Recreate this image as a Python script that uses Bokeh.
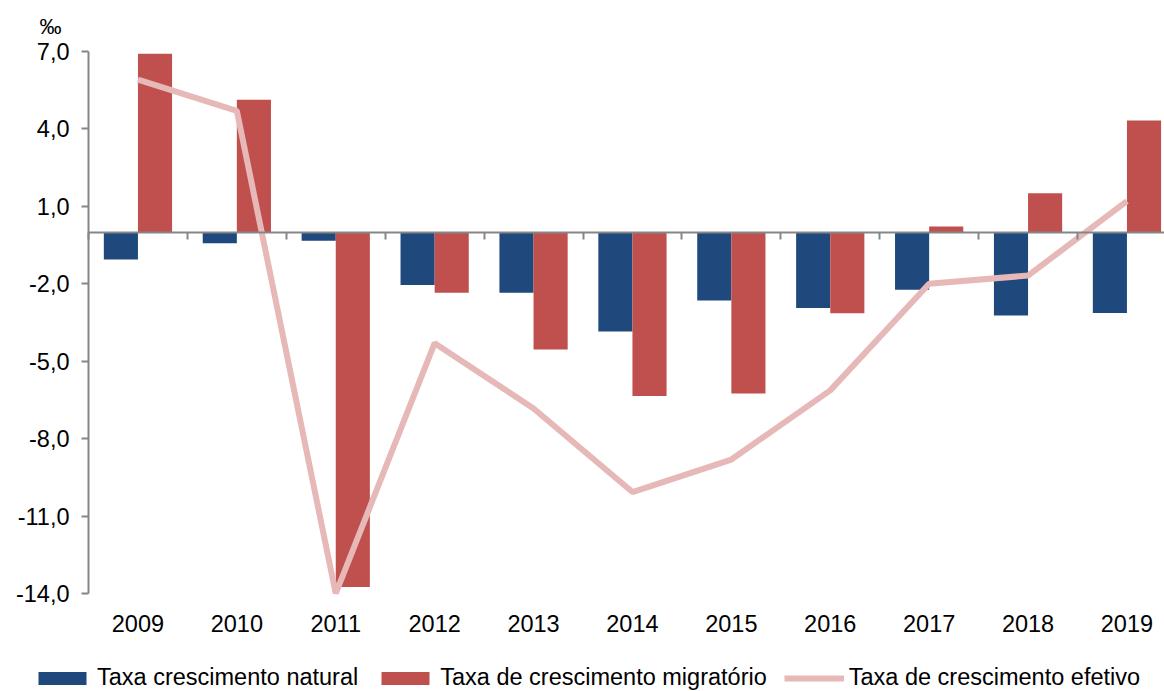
from bokeh.plotting import figure
from bokeh.models import (Range1d, LinearAxis, FixedTicker, Legend, LegendItem,
                          ColumnDataSource, Label)
from bokeh.transform import dodge
from bokeh.embed import file_html
from bokeh.resources import INLINE

# ---- data ----
years = ["2009", "2010", "2011", "2012", "2013", "2014", "2015", "2016", "2017", "2018", "2019"]
natural = [-1.06, -0.43, -0.33, -2.05, -2.35, -3.85, -2.65, -2.94, -2.23, -3.23, -3.13]
migratorio = [6.91, 5.13, -13.75, -2.35, -4.55, -6.35, -6.25, -3.14, 0.22, 1.51, 4.33]
efetivo = [5.91, 4.70, -14.0, -4.30, -6.83, -10.07, -8.81, -6.13, -2.00, -1.68, 1.20]
y_ticks = [-14, -11, -8, -5, -2, 1, 4, 7]
series_names = ["Taxa crescimento natural", "Taxa de crescimento migratório",
                "Taxa de crescimento efetivo"]
unit_label = "‰"

BLUE = "#1F497D"
RED = "#C0504D"
PINK = "#E6B9B8"
GREY = "#868686"
FONT = "Liberation Sans"
FS = "23.5px"

W, H = 1164, 691
# layout geometry (pixels)
AX_X = 88.0          # y-axis position from left
TOP_Y = 51.0         # pixel of y = 7
BOT_Y = 593.0        # pixel of y = -14
CAT_W = 98.9         # pixels per category

ymin, ymax = min(y_ticks), max(y_ticks)
ppu = (BOT_Y - TOP_Y) / (ymax - ymin)
y_start = ymin - (H - BOT_Y) / ppu
y_end = ymax + TOP_Y / ppu
x_start = -0.5 - AX_X / CAT_W
x_end = x_start + W / CAT_W

idx = list(range(len(years)))
src = ColumnDataSource(dict(idx=idx, natural=natural, migratorio=migratorio, efetivo=efetivo))

p = figure(width=W, height=H, output_backend="svg", toolbar_location=None,
           x_range=Range1d(x_start, x_end), y_range=Range1d(y_start, y_end),
           x_axis_location=None, y_axis_location=None,
           min_border=0, min_border_left=0, min_border_right=0,
           min_border_top=0, min_border_bottom=0)
p.outline_line_color = None
p.xgrid.visible = False
p.ygrid.visible = False

# bars
r_nat = p.vbar(x=dodge("idx", -0.1725, range=p.x_range), top="natural", bottom=0,
               width=0.345, source=src, fill_color=BLUE, line_color=None)
r_mig = p.vbar(x=dodge("idx", 0.1725, range=p.x_range), top="migratorio", bottom=0,
               width=0.345, source=src, fill_color=RED, line_color=None)

# category labels axis (at y = -14)
xa = LinearAxis(fixed_location=ymin, ticker=FixedTicker(ticks=idx),
                major_label_overrides={i: y for i, y in zip(idx, years)},
                axis_line_color=None, major_tick_line_color=None,
                minor_tick_line_color=None, major_label_standoff=15,
                major_label_text_font=FONT, major_label_text_font_size=FS,
                major_label_text_color="black")
p.add_layout(xa, "below")

# y axis (at x = -0.5)
ya = LinearAxis(fixed_location=-0.5, bounds=(ymin, ymax),
                ticker=FixedTicker(ticks=y_ticks),
                major_label_overrides={t: f"{t:.1f}".replace(".", ",") for t in y_ticks},
                axis_line_color=GREY, axis_line_width=2,
                major_tick_line_color=GREY, major_tick_line_width=2,
                major_tick_out=7, major_tick_in=0, minor_tick_line_color=None,
                major_label_standoff=12, major_label_text_font=FONT,
                major_label_text_font_size=FS, major_label_text_color="black")
p.add_layout(ya, "left")

# zero line axis with boundary ticks
zero_axis = LinearAxis(fixed_location=0, bounds=(-0.5, x_end + 1),
                       ticker=FixedTicker(ticks=[i - 0.5 for i in range(len(years) + 1)]),
                       axis_line_color=GREY, axis_line_width=2,
                       major_tick_line_color=GREY, major_tick_line_width=2,
                       major_tick_out=7, major_tick_in=0,
                       minor_tick_line_color=None,
                       major_label_text_alpha=0, major_label_text_font_size="1px")
p.add_layout(zero_axis, "below")

# line
r_eff = p.line(x="idx", y="efetivo", source=src, line_color=PINK, line_width=6)

# unit label
p.add_layout(Label(x=50, y=H - 26, x_units="screen", y_units="screen", text=unit_label,
                   text_align="center", text_baseline="middle", text_font=FONT,
                   text_font_size="22px", text_color="black"))

legend = Legend(items=[LegendItem(label=series_names[0], renderers=[r_nat]),
                       LegendItem(label=series_names[1], renderers=[r_mig]),
                       LegendItem(label=series_names[2], renderers=[r_eff])],
                orientation="horizontal", location=(32, 0),
                glyph_width=60, glyph_height=16, label_standoff=5, spacing=17,
                padding=0, margin=0, border_line_color=None, background_fill_alpha=0,
                label_text_font=FONT, label_text_font_size=FS, label_text_color="black")
p.add_layout(legend, "center")

open("out.html", "w").write(file_html(p, INLINE))
